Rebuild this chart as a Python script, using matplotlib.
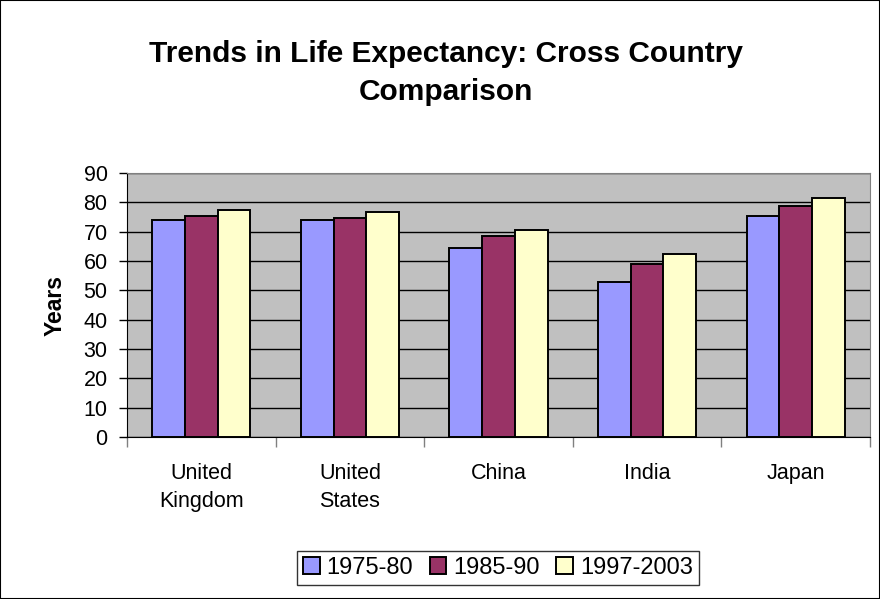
import numpy as np
import matplotlib.pyplot as plt
from matplotlib.patches import Rectangle

plt.rcParams['font.family'] = ['Liberation Sans', 'DejaVu Sans']

countries = ["United\nKingdom", "United\nStates", "China", "India", "Japan"]
periods = ["1975-80", "1985-90", "1997-2003"]
life_75 = [74.1, 74.1, 64.5, 53.0, 75.5]
life_85 = [75.5, 74.8, 68.6, 59.1, 78.9]
life_97 = [77.5, 76.8, 70.7, 62.5, 81.6]
colors = ["#9999FF", "#993366", "#FFFFCC"]

fig = plt.figure(figsize=(8.8, 5.99), dpi=100)
ax = fig.add_axes([127/880, 1 - 437/599, 743/880, 264/599])
ax.set_facecolor("#C0C0C0")

x = np.arange(len(countries))
w = 0.22
for i, (vals, lab) in enumerate(zip([life_75, life_85, life_97], periods)):
    ax.bar(x + (i - 1) * w, vals, w, color=colors[i], edgecolor="black",
           linewidth=1.4, label=lab, zorder=3)

ax.set_xlim(-0.5, len(countries) - 0.5)
ax.set_ylim(0, 90)
ax.set_yticks(range(0, 91, 10))
ax.yaxis.grid(True, color="black", linewidth=1, zorder=1)
ax.set_axisbelow(True)
ax.tick_params(axis="y", labelsize=15.5, length=6, width=1, pad=8)

ax.set_xticks(np.arange(-0.5, len(countries), 1.0))
ax.set_xticklabels([])
ax.set_xticks(x, minor=True)
ax.set_xticklabels(countries, minor=True, fontsize=15.5, linespacing=1.4)
ax.tick_params(axis="x", which="major", length=7, width=1, color="#808080")
ax.tick_params(axis="x", which="minor", length=0, pad=19)

for s in ["top", "right"]:
    ax.spines[s].set_color("#808080")
for s in ["left", "bottom"]:
    ax.spines[s].set_color("black")

ax.set_ylabel("Years", fontsize=16.5, fontweight="bold", labelpad=12)

fig.text(446/880, 1 - 73/599, "Trends in Life Expectancy: Cross Country\nComparison",
         ha="center", va="center", fontsize=21.5, fontweight="bold", linespacing=1.45)

leg = ax.legend(loc="center", bbox_to_anchor=(498/880, 1 - 568/599),
                bbox_transform=fig.transFigure, ncol=3, fontsize=17,
                frameon=True, fancybox=False, edgecolor="black",
                handlelength=0.7, handleheight=0.7, handletextpad=0.3,
                columnspacing=0.7, borderpad=0.25)
leg.get_frame().set_linewidth(1)

fig.patches.append(Rectangle((0, 0), 1, 1, transform=fig.transFigure,
                             fill=False, edgecolor="black", linewidth=1.5))

fig.savefig("out.png", dpi=100)
